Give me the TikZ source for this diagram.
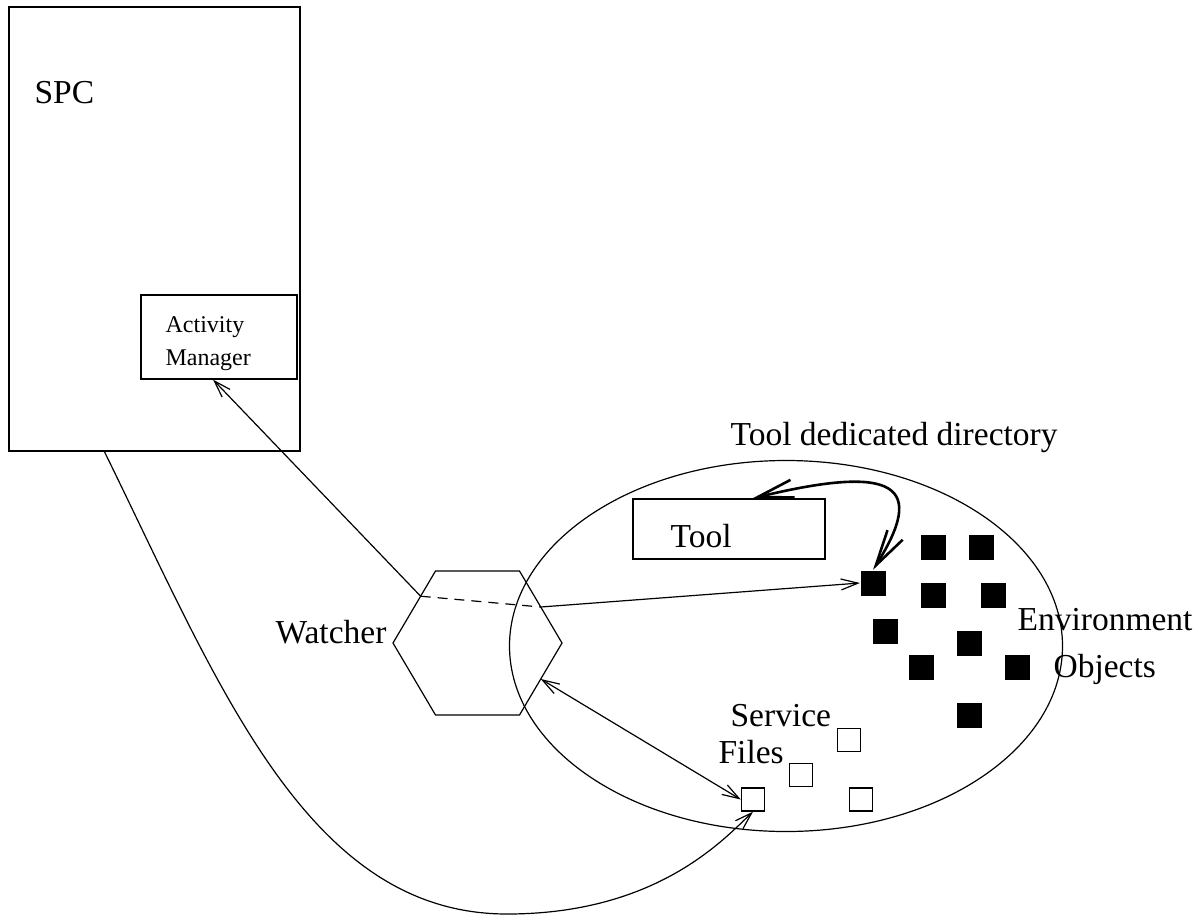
\documentclass[tikz,border=0pt]{standalone}
\usepackage{fontspec}
\setmainfont{Liberation Serif}
\usetikzlibrary{arrows.meta,calc,shapes.geometric}
\begin{document}
\begin{tikzpicture}[x=1pt,y=-1pt,line width=1.2pt,
  box/.style={draw, rectangle, inner sep=0pt, line width=1.2pt},
  envobj/.style={fill=black, minimum size=25pt, inner sep=0pt},
  svcfile/.style={draw, fill=white, minimum size=23pt, inner sep=0pt, line width=1.4pt},
  lbl/.style={anchor=base west, inner sep=0pt, font=\fontsize{33.5}{40}\selectfont},
  lblsmall/.style={anchor=base west, inner sep=0pt, font=\fontsize{24}{28}\selectfont},
  link/.style={-{Straight Barb[length=17pt,width=11pt]}},
  dlink/.style={{Straight Barb[length=17pt,width=11pt]}-{Straight Barb[length=17pt,width=11pt]}},
  hidden/.style={dash pattern=on 10pt off 7pt},
]
\useasboundingbox (0,0) rectangle (1202,919);

% SPC and its activity manager
\node[box, minimum width=291pt, minimum height=444pt] (spc) at (154.5,229) {};
\node[lbl] (spclbl) at (34,103) {SPC};
\node[box, minimum width=156pt, minimum height=84pt] (am) at (219,337) {};
\node[lblsmall] (amlbl1) at (165,332) {Activity};
\node[lblsmall] (amlbl2) at (165,365) {Manager};

% tool dedicated directory
\node[draw, ellipse, minimum width=553pt, minimum height=371pt, inner sep=0pt] (dir) at (786,646) {};
\node[lbl] (dirlbl) at (730,445) {Tool dedicated directory};
\node[box, minimum width=192pt, minimum height=60pt] (tool) at (729,529) {};
\node[lbl] (toollbl) at (670,547) {Tool};

% environment objects
\node[envobj] (e1) at (873,583) {};
\node[envobj] (e2) at (933,547) {};
\node[envobj] (e3) at (981,547) {};
\node[envobj] (e4) at (933,595) {};
\node[envobj] (e5) at (993,595) {};
\node[envobj] (e6) at (885,631) {};
\node[envobj] (e7) at (969,643) {};
\node[envobj] (e8) at (921,667) {};
\node[envobj] (e9) at (1017,667) {};
\node[envobj] (e10) at (969,715) {};
\node[lbl] (envlbl1) at (1017,630) {Environment};
\node[lbl] (envlbl2) at (1053,677) {Objects};

% service files
\node[svcfile] (s1) at (849,740) {};
\node[svcfile] (s2) at (801,775) {};
\node[svcfile] (s3) at (753,799.5) {};
\node[svcfile] (s4) at (861,799.5) {};
\node[lbl] (svclbl1) at (730,726) {Service};
\node[lbl] (svclbl2) at (718,763) {Files};

% watcher hexagon
\coordinate (h1) at (435.5,571);
\coordinate (h2) at (519.5,571);
\coordinate (h3) at (562,643);
\coordinate (h4) at (519.5,715);
\coordinate (h5) at (435.5,715);
\coordinate (h6) at (393,643);
\draw (h1) -- (h2) -- (h3) -- (h4) -- (h5) -- (h6) -- cycle;
\node[lbl, anchor=base east] (watchlbl) at (387,643) {Watcher};
\coordinate (wl) at ($(h1)!0.35!(h6)$);
\coordinate (wr) at ($(h2)!0.5!(h3)$);
\coordinate (wb) at ($(h3)!0.5!(h4)$);

% connectors
\coordinate (amin) at ($(am.south)+(-6,0)$);
\draw[link] (wl) -- (amin);
\draw[hidden] (wl) -- (wr);
\draw[link] (wr) -- (e1.west);
\draw[dlink] (wb) -- (s3.west);

\coordinate (toolin) at ($(tool.north west)+(120,0)$);
\draw[line width=2.6pt, {Straight Barb[length=36pt,width=18pt]}-{Straight Barb[length=36pt,width=18pt]}]
  (e1.north) .. controls (926,486) and (898,463) .. (toolin);

\coordinate (spcout) at ($(spc.south west)+(96,0)$);
\coordinate (low) at (507,914);
\draw[link] (spcout) .. controls (219,685) and (307,914) .. (low)
  .. controls (657,914) and (724,839) .. (s3.south);
\end{tikzpicture}
\end{document}
